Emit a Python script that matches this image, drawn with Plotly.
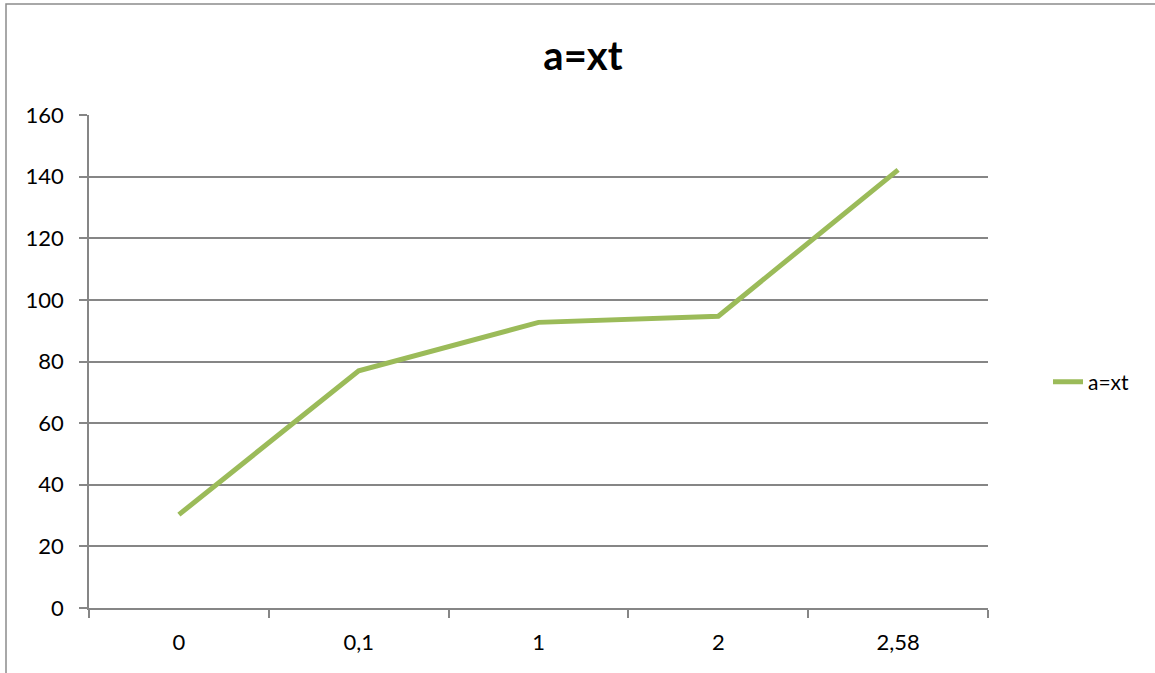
import plotly.graph_objects as go

# Series data
categories = ["0", "0,1", "1", "2", "2,58"]
values = [30.3, 77.0, 92.7, 94.7, 142.2]
series_name = "a=xt"
y_ticks = [0, 20, 40, 60, 80, 100, 120, 140, 160]

W, H = 1155, 673
L, R, T, B = 89, 167, 115, 65
pw, ph = W - L - R, H - T - B

grid = "#868686"
green = "#9BBB59"
font_family = "Lato, 'Open Sans', Arial, sans-serif"

fig = go.Figure()
fig.add_trace(go.Scatter(
    x=categories, y=values, mode="lines", name=series_name,
    line=dict(color=green, width=5),
))


def px_to_paper_x(px):
    return (px - L) / pw


def px_to_paper_y(py):
    return (H - B - py) / ph


# Chart-area border (top and left visible inside the window)
fig.add_shape(type="rect", xref="paper", yref="paper",
              x0=px_to_paper_x(6), x1=px_to_paper_x(W + 10),
              y0=px_to_paper_y(H + 10), y1=px_to_paper_y(4),
              line=dict(color="#8c8c8c", width=1.5), fillcolor="rgba(0,0,0,0)",
              layer="below")

fig.update_layout(
    width=W, height=H,
    margin=dict(l=L, r=R, t=T, b=B, pad=0),
    paper_bgcolor="white", plot_bgcolor="white",
    font=dict(family=font_family, size=22, color="#000000"),
    title=dict(text="<b>a=xt</b>", x=583 / W, xanchor="center",
               y=1 - 56 / H, yanchor="middle",
               font=dict(size=40, family=font_family, color="#000000")),
    showlegend=True,
    legend=dict(x=px_to_paper_x(1048), xanchor="left",
                y=px_to_paper_y(382), yanchor="middle",
                font=dict(size=21), bgcolor="rgba(0,0,0,0)"),
    xaxis=dict(type="category", tickson="boundaries", ticks="outside",
               ticklen=8, tickcolor=grid, tickwidth=1.6,
               showline=True, linecolor=grid, linewidth=1.6,
               showgrid=False, zeroline=False,
               range=[-0.5, len(categories) - 0.5],
               ticklabelstandoff=14,
               tickfont=dict(size=22)),
    yaxis=dict(range=[0, 160], tickvals=y_ticks, ticks="outside",
               ticklen=8, tickcolor=grid, tickwidth=1.6,
               showline=True, linecolor=grid, linewidth=1.6,
               showgrid=True, gridcolor=grid, gridwidth=1.6,
               zeroline=False, ticklabelstandoff=11,
               tickfont=dict(size=22)),
)

fig.write_html("out.html")
